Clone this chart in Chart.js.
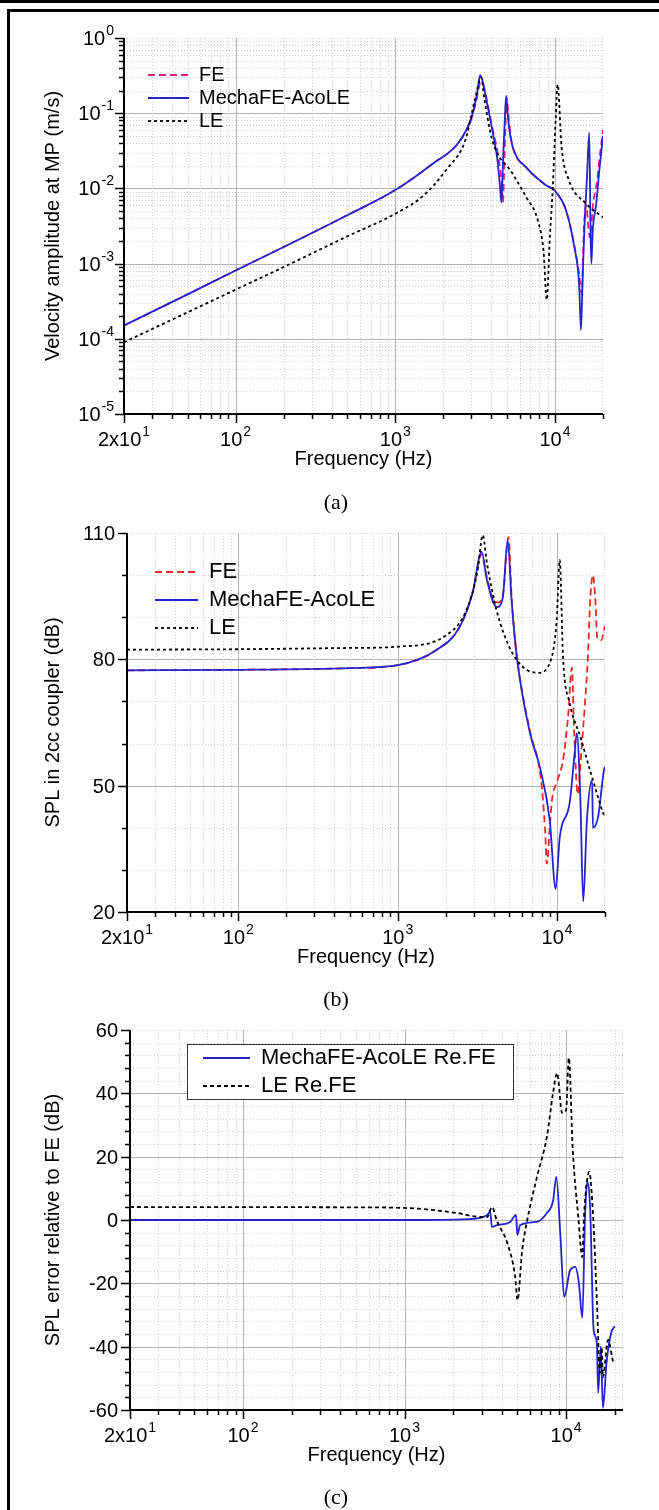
<!DOCTYPE html>
<html><head><meta charset="utf-8">
<script src="https://cdn.jsdelivr.net/npm/chart.js@4.4.0/dist/chart.umd.min.js"></script>
<style>
html,body{margin:0;padding:0;background:#fff;}
body{width:659px;height:1510px;position:relative;overflow:hidden;}
canvas{position:absolute;left:0;}
.cap{position:absolute;left:296px;width:80px;text-align:center;font-family:"Liberation Serif","Times New Roman",serif;font-size:22px;line-height:26px;color:#000;}
.frame{position:absolute;background:#000;}
</style></head><body>
<canvas id="ca" width="659" height="480" style="top:0"></canvas>
<canvas id="cb" width="659" height="500" style="top:480px"></canvas>
<canvas id="cc" width="659" height="530" style="top:980px"></canvas>
<div class="cap" style="top:489px">(a)</div>
<div class="cap" style="top:986px">(b)</div>
<div class="cap" style="top:1484px">(c)</div>
<div class="frame" style="left:0;top:0;width:659px;height:3px"></div>
<div class="frame" style="left:7px;top:9px;width:652px;height:3px"></div>
<div class="frame" style="left:7px;top:9px;width:3px;height:1501px"></div>
<script>
// ---------- tick labels ----------
const xMajorVals = [20, 100, 1000, 10000];
const xMajorBase = ['2x10', '10', '10', '10'];
const xMajorExp = ['1', '2', '3', '4'];
const xMinorVals = [30,40,50,60,70,80,90,200,300,400,500,600,700,800,900,2000,3000,4000,5000,6000,7000,8000,9000,20000];

const aYMajorVals = [1, 0.1, 0.01, 0.001, 0.0001, 0.00001];
const aYMajorBase = ['10','10','10','10','10','10'];
const aYMajorExp = ['0','-1','-2','-3','-4','-5'];
const bYMajorVals = [20, 50, 80, 110];
const bYMinorVals = [30, 40, 60, 70, 90, 100];
const cYMajorVals = [-60, -40, -20, 0, 20, 40, 60];

// ---------- chart (a): velocity amplitude ----------
const aFreqMecha = [20,50,100,200,500,1000,1700,2500,3000,3250,3400,3550,3700,4050,4350,4550,4620,4720,4850,4950,5050,5200,5450,6600,8800,10000,11700,13200,14200,14550,14900,15300,15900,16400,16700,16900,17300,18100,19000,20000];
const aVelMecha  = [1.5e-4,3.9e-4,8.1e-4,1.66e-3,4.4e-3,9.5e-3,0.021,0.041,0.088,0.18,0.32,0.25,0.16,0.060,0.025,0.0095,0.0065,0.02,0.08,0.17,0.10,0.058,0.035,0.019,0.011,0.0093,0.0052,0.0017,5e-4,1.3e-4,6e-4,3e-3,0.015,0.055,0.003,1e-3,3e-3,6e-3,0.018,0.05];
const aFreqFE = [20,50,100,200,500,1000,1700,2500,3000,3250,3420,3550,3700,4050,4400,4650,4720,4800,4900,5000,5100,5250,5450,6600,8800,10000,11700,13200,14200,14700,15200,15700,16200,16600,17300,18300,19200,20000];
const aVelFE  = [1.5e-4,3.9e-4,8.1e-4,1.66e-3,4.4e-3,9.5e-3,0.021,0.041,0.084,0.16,0.26,0.24,0.17,0.065,0.028,0.011,0.0065,0.015,0.07,0.16,0.10,0.056,0.035,0.019,0.011,0.0093,0.0052,0.0018,7e-4,4e-4,3e-3,0.006,0.003,0.0022,0.006,0.012,0.03,0.06];
const aFreqLE = [20,50,100,200,500,1000,1500,2100,2750,3150,3460,3600,4050,5400,6600,7800,8500,8880,9300,9700,10100,10400,11000,12200,15500,20000];
const aVelLE  = [9e-5,2.25e-4,4.5e-4,9e-4,2.3e-3,4.6e-3,8e-3,0.018,0.044,0.15,0.30,0.165,0.044,0.016,0.0077,0.0038,0.0014,3.3e-4,2.3e-3,0.0105,0.081,0.24,0.036,0.013,0.0064,0.0041];

// ---------- chart (b): SPL ----------
const bFreqMecha = [20,100,500,1000,1750,2450,2950,3360,3630,4190,4570,4900,5200,5590,6760,7800,9000,9800,10400,12000,12900,13300,14000,14600,15400,16600,16800,18100,19700,20000];
const bSplMecha  = [77.4,77.5,77.9,78.6,82.2,87.7,95.8,105.5,98.8,92.4,94.8,108.3,93.4,80.6,62.5,54.4,41.8,25.5,37.8,45.9,57.8,62.5,47.3,22.5,41.8,51.3,40,42.6,53.7,54.5];
const bFreqFE = [20,100,500,1000,1750,2450,2950,3360,3630,4000,4300,4600,4950,5200,5590,6760,7900,8400,8630,9000,9300,10000,10900,11700,12400,12800,13500,14200,15000,15600,16200,16800,17400,17900,18900,20000];
const bSplFE  = [77.4,77.5,77.9,78.6,82.2,87.7,95.8,105,99.5,94,93.5,96,109,94,81,63,52,40,31.5,40,46.6,51,56,66,78,63,48,58,70,80,95,100,94,85,84.5,88];
const bFreqLE = [20,100,500,1000,2120,2700,3170,3420,3630,4170,5020,6100,7590,9000,9950,10400,10900,12000,14000,16100,19700,20000];
const bSplLE  = [82.3,82.4,82.7,83,86.3,91.7,101,109.5,102.9,91.7,82.9,78.2,76.8,79.1,89.3,103.6,80.6,69.6,61.6,53.7,43,42.5];

// ---------- chart (c): SPL error ----------
const cFreqMecha = [20,1000,2500,3250,3390,3470,3750,4510,4900,4990,5200,6600,7600,8300,8700,9200,9730,10600,11400,12000,12600,13100,13500,14100,14800,15500,15800,16400,16900,17800,19000,20000];
const cErrMecha  = [0,0,0.3,1.6,2.8,-2.2,-1.6,-0.6,1.6,-4.7,-1.6,-0.6,2.2,6,13.6,-4.1,-24.3,-15.8,-14.8,-19.9,-30.9,1,12,3.2,-34.7,-38.8,-54.6,-40,-59.4,-45,-35.7,-33.5];
const cFreqLE = [20,500,1000,2120,2820,3250,3470,3750,4330,4840,5000,5350,5750,6600,7600,8300,8800,9450,10000,10400,11000,11900,12600,12900,13900,14700,15500,16200,16600,16900,18200,19800,20000];
const cErrLE  = [4.1,4.0,3.8,2.2,1,0.9,4.1,-0.6,-7.3,-18,-25.3,-9.5,0,13.6,26.2,40,46.4,33.8,34.7,51.2,22.1,1,-11.7,1,15.2,1,-25.3,-48.3,-40.4,-49.6,-37.9,-45.2,-45];

// ---------- helpers ----------
const FONT = 'Arial, "Liberation Sans", Helvetica, sans-serif';
Chart.defaults.font.family = FONT;
Chart.defaults.color = '#000';
const BLUE = '#2323d2', BLACK = '#000000', PINK = '#e41c7c', RED = '#e82a2a';

function pts(xs, ys) { return xs.map((x, i) => ({ x: x, y: ys[i] })); }
function logMinors(lo, hi) { const r = []; for (let e = lo; e < hi; e++) for (let m = 2; m <= 9; m++) r.push(m * Math.pow(10, e)); return r; }
function linMinors(lo, hi, step, majors) { const r = []; for (let v = lo; v <= hi + 1e-9; v += step) if (!majors.some(m => Math.abs(m - v) < 1e-9)) r.push(v); return r; }

function supLabel(ctx, base, exp, x, yBase, align) {
  ctx.font = '20px ' + FONT; const wb = ctx.measureText(base).width;
  ctx.font = '14px ' + FONT; const ws = exp ? ctx.measureText(exp).width + 1 : 0;
  const tot = wb + ws;
  const sx = align === 'center' ? x - tot / 2 : x - tot;
  ctx.textAlign = 'left'; ctx.textBaseline = 'alphabetic';
  ctx.font = '20px ' + FONT; ctx.fillText(base, sx, yBase);
  if (exp) { ctx.font = '14px ' + FONT; ctx.fillText(exp, sx + wb + 1, yBase - 10); }
}

function legendLabels(chart) {
  return Chart.defaults.plugins.legend.labels.generateLabels(chart).map(l => {
    const d = chart.data.datasets[l.datasetIndex];
    l.lineDash = d.borderDash; l.strokeStyle = d.borderColor; l.lineWidth = d.borderWidth; l.pointStyle = 'line';
    return l;
  });
}

function axesPlugin(o) {
  return {
    id: 'axes_' + o.id,
    afterLayout(chart) {
      const lg = chart.legend;
      if (lg && o.legendPos) {
        const w = lg.width, h = lg.height;
        lg.left = o.legendPos.x; lg.top = o.legendPos.y; lg.right = lg.left + w; lg.bottom = lg.top + h;
      }
    },
    beforeDraw(chart) {
      const { ctx, chartArea: a } = chart; const xs = chart.scales.x, ys = chart.scales.y;
      ctx.save();
      ctx.lineWidth = 1;
      ctx.strokeStyle = '#cdcdcd'; ctx.setLineDash([1, 2]);
      ctx.beginPath();
      o.xMinor.forEach(v => { const p = Math.round(xs.getPixelForValue(v)) + 0.5; if (p < a.right) { ctx.moveTo(p, a.top); ctx.lineTo(p, a.bottom); } });
      o.yMinor.forEach(v => { const p = Math.round(ys.getPixelForValue(v)) + 0.5; ctx.moveTo(a.left, p); ctx.lineTo(a.right, p); });
      ctx.moveTo(a.left, a.top + 0.5); ctx.lineTo(a.right, a.top + 0.5);
      ctx.moveTo(a.right - 0.5, a.top); ctx.lineTo(a.right - 0.5, a.bottom);
      ctx.stroke();
      ctx.setLineDash([]); ctx.strokeStyle = '#b4b4b4';
      ctx.beginPath();
      o.xGrid.forEach(v => { const p = Math.round(xs.getPixelForValue(v)) + 0.5; ctx.moveTo(p, a.top); ctx.lineTo(p, a.bottom); });
      o.yGrid.forEach(v => { const p = Math.round(ys.getPixelForValue(v)) + 0.5; ctx.moveTo(a.left, p); ctx.lineTo(a.right, p); });
      ctx.stroke();
      if (o.legendBox) {
        const b = o.legendBox;
        ctx.fillStyle = '#fff'; ctx.fillRect(b.x, b.y, b.w, b.h);
        ctx.strokeStyle = '#333'; ctx.lineWidth = 1; ctx.strokeRect(b.x + 0.5, b.y + 0.5, b.w, b.h);
      }
      ctx.restore();
    },
    afterDraw(chart) {
      const { ctx, chartArea: a } = chart; const xs = chart.scales.x, ys = chart.scales.y;
      ctx.save();
      ctx.setLineDash([]); ctx.strokeStyle = '#000'; ctx.lineWidth = 1.5;
      ctx.beginPath();
      o.xMinor.forEach(v => { const p = Math.round(xs.getPixelForValue(v)) + 0.5; ctx.moveTo(p, a.bottom); ctx.lineTo(p, a.bottom + 5); });
      o.xMajor.forEach(v => { const p = Math.round(xs.getPixelForValue(v)) + 0.5; ctx.moveTo(p, a.bottom); ctx.lineTo(p, a.bottom + 9); });
      o.yMinor.forEach(v => { const p = Math.round(ys.getPixelForValue(v)) + 0.5; ctx.moveTo(a.left, p); ctx.lineTo(a.left - 5, p); });
      o.yMajor.forEach(v => { const p = Math.round(ys.getPixelForValue(v)) + 0.5; ctx.moveTo(a.left, p); ctx.lineTo(a.left - 9, p); });
      ctx.stroke();
      ctx.lineWidth = 2;
      ctx.beginPath();
      ctx.moveTo(a.left, a.top); ctx.lineTo(a.left, a.bottom + 1);
      ctx.moveTo(a.left - 1, a.bottom); ctx.lineTo(a.right, a.bottom);
      ctx.stroke();
      ctx.fillStyle = '#000';
      o.xMajor.forEach((v, i) => supLabel(ctx, xMajorBase[i], xMajorExp[i], xs.getPixelForValue(v), a.bottom + 32, 'center'));
      o.yMajor.forEach((v, i) => {
        const p = ys.getPixelForValue(v);
        if (o.yExp) supLabel(ctx, o.yBase[i], o.yExp[i], a.left - 10, p + 7, 'right');
        else { ctx.font = '20px ' + FONT; ctx.textAlign = 'right'; ctx.textBaseline = 'alphabetic'; ctx.fillText(String(v), a.left - 12, p + 7); }
      });
      ctx.restore();
    }
  };
}

function makeChart(o) {
  const el = document.getElementById(o.id);
  const W = el.width, H = el.height;
  return new Chart(el, {
    type: 'line',
    data: { datasets: o.datasets },
    options: {
      responsive: false, animation: false, events: [],
      layout: { padding: { top: o.area.top, right: W - o.area.right, left: 0, bottom: 0 } },
      elements: { point: { radius: 0 }, line: { cubicInterpolationMode: 'monotone', fill: false } },
      plugins: {
        tooltip: { enabled: false },
        legend: {
          position: 'chartArea', align: 'start',
          labels: { usePointStyle: true, pointStyle: 'line', pointStyleWidth: o.legendLine, padding: o.legendPad,
                    font: { size: o.legendFont }, color: '#000', generateLabels: legendLabels,
                    sort: (p, q) => p.datasetIndex - q.datasetIndex }
        }
      },
      scales: {
        x: { type: 'logarithmic', min: 20, max: o.xMax,
             grid: { display: false }, border: { display: false }, ticks: { display: false },
             afterFit: s => { s.height = H - o.area.bottom; },
             title: { display: true, text: 'Frequency (Hz)', font: { size: 20 }, color: '#000', padding: { top: 0, bottom: o.xTitlePad } } },
        y: { type: o.yType, min: o.yMin, max: o.yMax,
             grid: { display: false }, border: { display: false }, ticks: { display: false },
             afterFit: s => { s.width = o.area.left; },
             title: { display: true, text: o.yTitle, font: { size: 20 }, color: '#000', padding: { top: 41, bottom: 0 } } }
      }
    },
    plugins: [axesPlugin(o)]
  });
}

function ds(label, xs, ys, color, dash, order) {
  return { label: label, data: pts(xs, ys), borderColor: color, backgroundColor: color, borderWidth: 1.8,
           borderDash: dash, pointRadius: 0, order: order, fill: false };
}

const xGridVals = [100, 1000, 10000];

makeChart({
  id: 'ca', area: { left: 124, top: 38, right: 603, bottom: 414 }, xMax: 20000,
  yType: 'logarithmic', yMin: 1e-5, yMax: 1, yTitle: 'Velocity amplitude at MP (m/s)', xTitlePad: 9,
  xMajor: xMajorVals, xMinor: xMinorVals, xGrid: xGridVals,
  yMajor: aYMajorVals, yBase: aYMajorBase, yExp: aYMajorExp, yMinor: logMinors(-5, 0), yGrid: [0.1, 0.01, 0.001, 0.0001],
  legendPos: { x: 145, y: 62 }, legendPad: 3, legendFont: 20, legendLine: 41,
  datasets: [
    ds('FE', aFreqFE, aVelFE, PINK, [7, 4], 2),
    ds('MechaFE-AcoLE', aFreqMecha, aVelMecha, BLUE, [], 1),
    ds('LE', aFreqLE, aVelLE, BLACK, [3, 3], 0)
  ]
});

makeChart({
  id: 'cb', area: { left: 127, top: 53, right: 605, bottom: 432 }, xMax: 20000,
  yType: 'linear', yMin: 20, yMax: 110, yTitle: 'SPL in 2cc coupler (dB)', xTitlePad: 11,
  xMajor: xMajorVals, xMinor: xMinorVals, xGrid: xGridVals,
  yMajor: bYMajorVals, yMinor: bYMinorVals, yGrid: [50, 80],
  legendPos: { x: 149, y: 75 }, legendPad: 6, legendFont: 22, legendLine: 43,
  datasets: [
    ds('FE', bFreqFE, bSplFE, RED, [7, 4], 2),
    ds('MechaFE-AcoLE', bFreqMecha, bSplMecha, BLUE, [], 1),
    ds('LE', bFreqLE, bSplLE, BLACK, [3, 3], 0)
  ]
});

makeChart({
  id: 'cc', area: { left: 130, top: 50, right: 623, bottom: 430 }, xMax: 22500,
  yType: 'linear', yMin: -60, yMax: 60, yTitle: 'SPL error relative to FE (dB)', xTitlePad: 43,
  xMajor: xMajorVals, xMinor: xMinorVals, xGrid: xGridVals,
  yMajor: cYMajorVals, yMinor: linMinors(-60, 60, 4, cYMajorVals), yGrid: [-40, -20, 0, 20, 40],
  legendPos: { x: 197, y: 61 }, legendPad: 6, legendFont: 22, legendLine: 47,
  legendBox: { x: 187, y: 64, w: 326, h: 55 },
  datasets: [
    ds('MechaFE-AcoLE Re.FE', cFreqMecha, cErrMecha, BLUE, [], 1),
    ds('LE Re.FE', cFreqLE, cErrLE, BLACK, [4, 3], 0)
  ]
});
</script>
</body></html>
